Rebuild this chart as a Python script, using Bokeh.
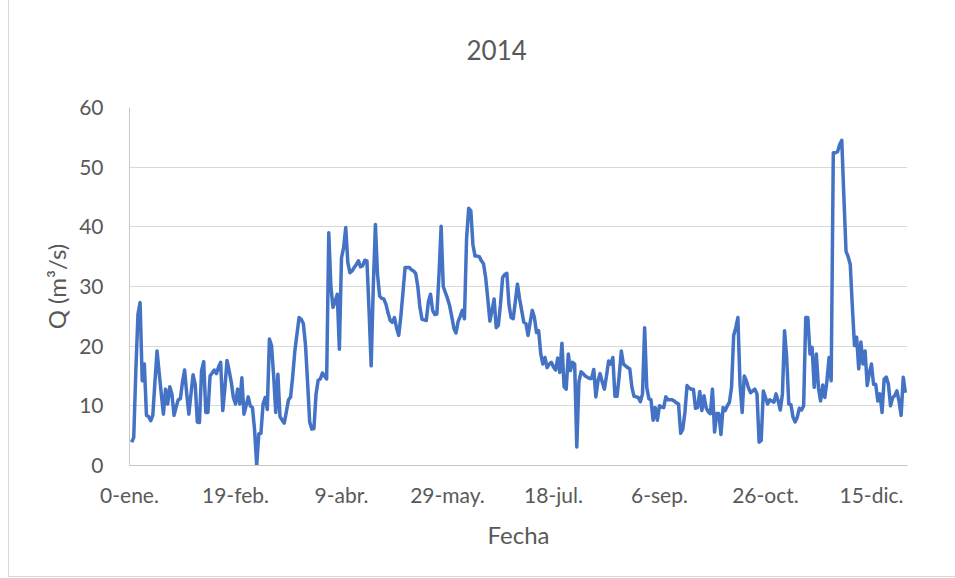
import numpy as np
from bokeh.plotting import figure
from bokeh.models import Range1d, FixedTicker
from bokeh.embed import file_html
from bokeh.resources import INLINE

# Daily discharge Q (m3/s), 2014, one list per month (Excel 1900 serial days; feb includes serial 60)
q_ene = [3.9, 4.7, 16.0, 25.4, 27.3, 14.2, 17.0, 8.4, 8.2, 7.5,
         8.4, 14.0, 19.2, 15.5, 12.0, 8.6, 12.8, 10.3, 13.2, 12.0,
         8.4, 9.8, 11.0, 11.2, 14.0, 16.0, 12.0, 8.6, 12.0, 15.2, 13.6]
q_feb = [7.3, 7.2, 15.9, 17.4, 8.9, 8.9, 15.0, 15.5, 16.0, 15.4,
         16.5, 17.3, 9.2, 13.0, 17.6, 15.9, 14.0, 11.4, 10.3, 12.8,
         10.3, 14.7, 8.6, 10.0, 11.5, 10.0, 9.7, 6.0, 0.0]
q_mar = [5.3, 5.4, 10.3, 11.4, 9.4, 21.2, 20.1, 15.0, 8.9, 15.3,
         8.2, 7.6, 7.1, 9.0, 11.0, 11.5, 15.0, 19.2, 22.0, 24.8,
         24.5, 23.8, 20.3, 14.0, 7.3, 6.1, 6.2, 12.0, 14.3, 14.5, 15.5]
q_abr = [15.0, 14.5, 39.0, 30.0, 26.5, 27.5, 28.7, 19.5, 34.8, 36.5,
         39.9, 34.0, 32.3, 32.6, 33.2, 33.7, 34.3, 33.3, 33.5, 34.4,
         34.3, 26.0, 16.7, 30.0, 40.4, 32.0, 28.4, 28.0, 27.9, 27.0]
q_may = [25.5, 24.3, 24.0, 24.8, 23.0, 21.8, 25.0, 29.0, 33.2, 33.2,
         33.2, 32.8, 32.6, 32.2, 30.0, 26.5, 24.5, 24.4, 24.3, 27.5,
         28.7, 26.0, 25.3, 25.4, 32.0, 40.1, 30.0, 29.0, 28.0, 26.8, 25.0]
q_jun = [23.0, 22.2, 24.1, 25.0, 26.0, 24.6, 38.0, 43.1, 42.7, 37.0,
         35.1, 35.1, 35.0, 34.3, 33.8, 31.5, 28.0, 24.2, 26.0, 27.9,
         23.1, 23.5, 27.0, 31.5, 32.0, 32.2, 27.0, 24.8, 24.6, 27.5]
q_jul = [30.4, 28.0, 26.0, 24.0, 23.8, 21.8, 24.0, 26.0, 24.8, 22.3,
         22.6, 18.7, 17.0, 18.1, 16.4, 17.0, 17.3, 16.5, 16.0, 18.0,
         15.6, 20.5, 13.2, 12.8, 18.7, 15.9, 17.3, 17.0, 3.1, 14.0, 15.7]
q_ago = [15.4, 15.0, 14.8, 14.6, 14.6, 16.1, 11.5, 14.2, 15.4, 14.0,
         12.8, 15.0, 17.5, 17.0, 18.1, 11.6, 11.6, 15.0, 19.2, 17.0,
         16.7, 16.4, 16.2, 13.1, 11.6, 11.5, 11.4, 10.7, 12.0, 23.1, 13.1]
q_sep = [11.2, 11.0, 7.6, 9.7, 7.6, 10.0, 9.8, 9.7, 11.5, 11.0,
         11.0, 11.0, 10.8, 10.5, 10.3, 5.4, 6.1, 8.9, 13.4, 13.0,
         12.8, 12.8, 9.6, 9.7, 12.4, 9.2, 11.7, 9.7, 9.0, 8.7]
q_oct = [12.8, 5.6, 8.7, 8.7, 5.2, 9.7, 9.2, 10.0, 10.6, 13.1,
         21.8, 23.1, 24.8, 13.6, 8.9, 15.0, 14.2, 13.0, 12.2, 12.5,
         12.8, 12.0, 3.9, 4.2, 12.5, 11.4, 10.3, 11.0, 10.8, 10.6, 12.0]
q_nov = [10.8, 9.3, 12.0, 22.6, 18.1, 10.3, 10.2, 8.1, 7.3, 8.1,
         9.6, 9.3, 10.0, 24.8, 24.8, 18.7, 19.8, 13.1, 18.7, 13.0,
         10.8, 13.5, 11.4, 14.2, 18.1, 14.2, 52.4, 52.4, 52.6, 53.8]
q_dic = [54.5, 44.9, 35.9, 35.0, 33.7, 26.5, 20.1, 21.5, 16.2, 20.7,
         17.0, 19.2, 13.4, 15.5, 17.0, 13.6, 13.6, 10.8, 12.0, 8.9,
         14.5, 14.8, 13.6, 10.0, 11.4, 11.7, 12.5, 10.8, 8.4, 14.8, 12.2]

tick_days = [0, 50, 100, 150, 200, 250, 300, 350]
tick_labels = ["0-ene.", "19-feb.", "9-abr.", "29-may.", "18-jul.", "6-sep.", "26-oct.", "15-dic."]
y_ticks = [0, 10, 20, 30, 40, 50, 60]

q = np.array(q_ene + q_feb + q_mar + q_abr + q_may + q_jun +
             q_jul + q_ago + q_sep + q_oct + q_nov + q_dic)
days = np.arange(1, len(q) + 1)

FONT = "Lato"
TXT = "#595959"

p = figure(frame_width=778, frame_height=358,
           min_border_left=120, min_border_right=48,
           min_border_top=60, min_border_bottom=111,
           x_range=Range1d(0, 367), y_range=Range1d(0, 60),
           output_backend="svg", toolbar_location=None,
           background_fill_color="white", border_fill_color="white")
p.styles = {"border-left": "1px solid #d9d9d9", "border-bottom": "1px solid #d9d9d9",
            "margin-left": "8px", "margin-top": "-10px"}
p.outline_line_color = None

p.line(days, q, line_color="#4472C4", line_width=3.5, line_join="round")

p.title.text = "2014"
p.title.align = "left"
p.title.offset = 337
p.title.standoff = 95
p.title.text_font = FONT
p.title.text_font_size = "26px"
p.title.text_font_style = "normal"
p.title.text_color = TXT

p.xaxis.ticker = FixedTicker(ticks=tick_days)
p.xaxis.major_label_overrides = {d: l for d, l in zip(tick_days, tick_labels)}
p.yaxis.ticker = FixedTicker(ticks=y_ticks)

for ax in (p.xaxis, p.yaxis):
    ax.axis_line_color = "#c8c8c8"
    ax.axis_line_width = 1
    ax.major_tick_line_color = None
    ax.minor_tick_line_color = None
    ax.major_label_text_font = FONT
    ax.major_label_text_font_size = "21px"
    ax.major_label_text_color = TXT
    ax.axis_label_text_font = FONT
    ax.axis_label_text_font_size = "24px"
    ax.axis_label_text_font_style = "normal"
    ax.axis_label_text_color = TXT

p.xaxis.axis_label = "Fecha"
p.yaxis.axis_label = "Q (m³/s)"
p.xaxis.major_label_standoff = 10
p.yaxis.major_label_standoff = 20
p.xaxis.axis_label_standoff = 10
p.yaxis.axis_label_standoff = 5

p.xgrid.grid_line_color = None
p.ygrid.grid_line_color = "#d9d9d9"
p.ygrid.grid_line_width = 1

open("out.html", "w").write(file_html(p, INLINE))
